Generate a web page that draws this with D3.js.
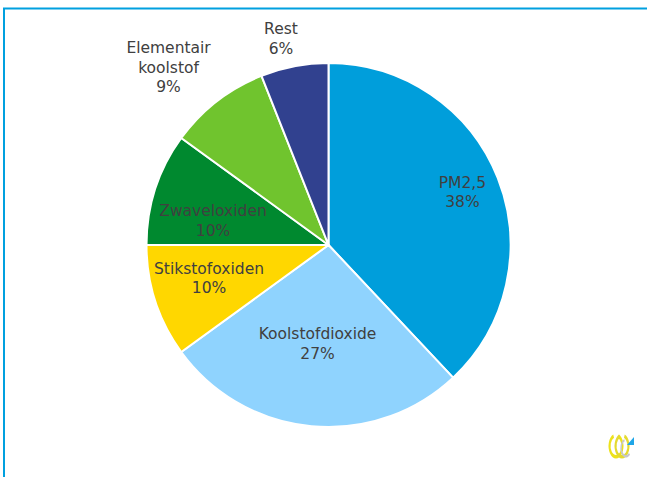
<!DOCTYPE html>
<html>
<head>
<meta charset="utf-8">
<script src="https://cdn.jsdelivr.net/npm/d3@7"></script>
<style>
  body { margin: 0; background: #fff; }
  svg { display: block; }
</style>
</head>
<body>
<div class="chart"></div>
<script>
// data
const categories = ['PM2,5', 'Koolstofdioxide', 'Stikstofoxiden', 'Zwaveloxiden', 'Elementair koolstof', 'Rest']
const shares = [38, 27, 10, 10, 9, 6]
const labelLines = [['PM2,5'], ['Koolstofdioxide'], ['Stikstofoxiden'], ['Zwaveloxiden'], ['Elementair', 'koolstof'], ['Rest']]
const colors = ['#009EDB', '#8FD3FE', '#FFD700', '#00892F', '#70C42E', '#31418F']

const w = 647, h = 477
const cx = 328.5, cy = 245, R = 182

const svg = d3.select('.chart')
    .append('svg')
    .attr('width', w)
    .attr('height', h)

// frame lines (top + left)
svg.append('path')
    .attr('d', `M4,${h} L4,8.5 L${w},8.5`)
    .attr('fill', 'none')
    .attr('stroke', '#00A0DF')
    .attr('stroke-width', 2)

const pie = d3.pie().sort(null)
const arc = d3.arc().innerRadius(0).outerRadius(R)

const g = svg.append('g').attr('transform', `translate(${cx},${cy})`)

const arcs = g.selectAll('g.arc')
    .data(pie(shares))
    .enter()
    .append('g')
    .attr('class', 'arc')

arcs.append('path')
    .attr('d', arc)
    .attr('fill', (d, i) => colors[i])
    .attr('stroke', '#fff')
    .attr('stroke-width', 2)
    .attr('stroke-linejoin', 'round')

// label placement like Excel's best fit: radius and where in the slice (0..1)
const labelRad = [144, 99, 124, 118, 239, 212]
const labelFrac = [0.5, 0.51, 0.57, 0.33, 0.37, 0.4]
const lineH = 19.5

arcs.each(function (d, i) {
    const a = d.startAngle + (d.endAngle - d.startAngle) * labelFrac[i]
    const x = Math.sin(a) * labelRad[i]
    const y = -Math.cos(a) * labelRad[i]
    const lines = labelLines[i].concat([shares[i] + '%'])
    const t = d3.select(this).append('text')
        .attr('text-anchor', 'middle')
        .attr('font-family', '"DejaVu Sans", sans-serif')
        .attr('font-size', '15.5px')
        .attr('fill', '#404040')
    lines.forEach((s, k) => {
        t.append('tspan')
            .attr('x', x)
            .attr('y', y + (k - (lines.length - 1) / 2) * lineH + 5.5)
            .text(s)
    })
})

// small logo bottom right
const logo = svg.append('g').attr('transform', 'translate(620,446)')
const ring = d3.arc()({ innerRadius: 9, outerRadius: 12.5, startAngle: Math.PI * 0.12, endAngle: Math.PI * 1.88 })
logo.append('path')
    .attr('d', ring)
    .attr('fill', '#EDE21C')
    .attr('transform', 'translate(-4,0) scale(0.6,1)')
logo.append('path')
    .attr('d', ring)
    .attr('fill', '#E4DA30')
    .attr('transform', 'translate(2,0) scale(0.6,1)')
logo.append('path')
    .attr('d', d3.arc()({ innerRadius: 7, outerRadius: 9.5, startAngle: Math.PI * 0.75, endAngle: Math.PI * 1.9 }))
    .attr('fill', '#C8C8C8')
    .attr('transform', 'translate(6,2) scale(0.6,1)')
logo.append('path')
    .attr('d', 'M7,-1 L14,-1 L14,-9 Z')
    .attr('fill', '#1FA6E8')
</script>
</body>
</html>
